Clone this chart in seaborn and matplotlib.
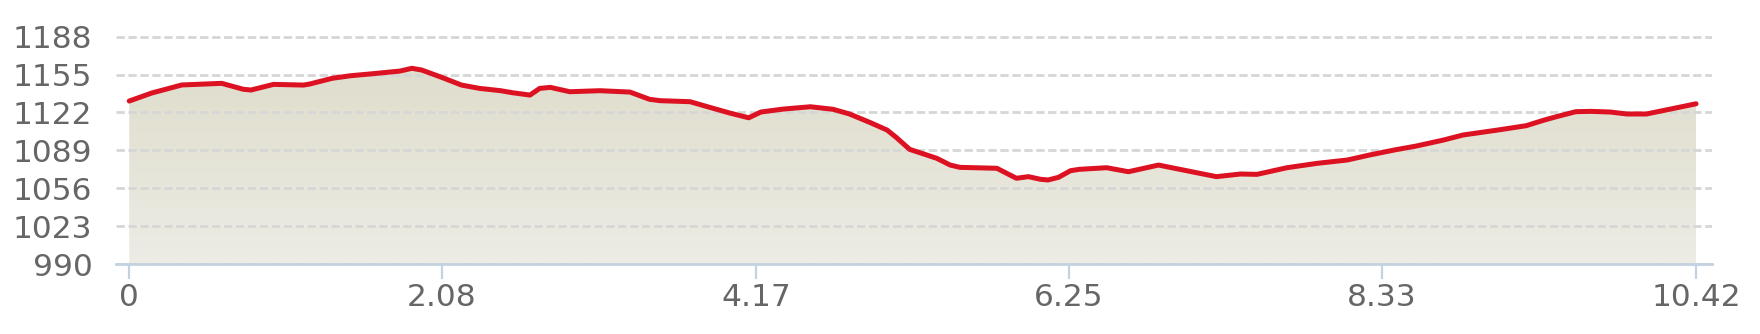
import numpy as np
import pandas as pd
import matplotlib
matplotlib.use("Agg")
import matplotlib.pyplot as plt
import seaborn as sns
from matplotlib.colors import LinearSegmentedColormap

# ---- data (distance in km, elevation in m) ----
distance = [0, 0.15, 0.35, 0.615, 0.76, 0.81, 0.96, 1.16, 1.20, 1.35, 1.47, 1.645,
            1.80, 1.88, 1.945, 2.07, 2.21, 2.33, 2.47, 2.55, 2.665, 2.73, 2.80,
            2.93, 3.13, 3.33, 3.46, 3.53, 3.73, 3.86, 4.00, 4.12, 4.20, 4.35,
            4.53, 4.68, 4.79, 4.93, 5.04, 5.10, 5.19, 5.37, 5.46, 5.525, 5.77,
            5.90, 5.98, 6.06, 6.11, 6.18, 6.26, 6.32, 6.50, 6.645, 6.845, 7.23,
            7.39, 7.50, 7.70, 7.90, 8.10, 8.25, 8.42, 8.56, 8.74, 8.87, 9.10,
            9.29, 9.41, 9.49, 9.62, 9.72, 9.85, 9.96, 10.09, 10.25, 10.42]
elevation = [1132.0, 1139.0, 1146.0, 1147.4, 1142.2, 1141.6, 1146.5, 1145.9, 1146.8,
             1151.8, 1154.0, 1156.1, 1158.1, 1160.5, 1159.0, 1153.0, 1145.9, 1143.0,
             1141.0, 1139.2, 1137.2, 1143.0, 1143.9, 1140.1, 1141.0, 1139.8, 1133.5,
             1132.3, 1131.4, 1126.5, 1121.3, 1117.4, 1122.4, 1125.0, 1127.0, 1124.8,
             1120.7, 1113.1, 1106.7, 1100.4, 1089.9, 1082.1, 1076.2, 1074.2, 1073.4,
             1064.7, 1066.1, 1063.8, 1063.2, 1065.5, 1071.3, 1072.5, 1073.9, 1070.4,
             1076.2, 1066.1, 1068.4, 1068.1, 1073.9, 1077.7, 1080.6, 1085.0, 1089.5,
             1092.8, 1098.0, 1102.4, 1106.7, 1110.5, 1115.4, 1118.3, 1122.7, 1123.0,
             1122.4, 1120.7, 1120.7, 1125.0, 1129.6]
x_ticks = [0, 2.08, 4.17, 6.25, 8.33, 10.42]
x_ticklabels = ["0", "2.08", "4.17", "6.25", "8.33", "10.42"]
y_ticks = [990, 1023, 1056, 1089, 1122, 1155, 1188]
y_ticklabels = ["990", "1023", "1056", "1089", "1122", "1155", "1188"]

df = pd.DataFrame({"distance": distance, "elevation": elevation})

sns.set_style("white")
plt.rcParams["font.family"] = ["DejaVu Sans"]

fig = plt.figure(figsize=(17.6, 3.34), dpi=100)
ax = fig.add_axes([116 / 1760, 1 - 264 / 334, (1712 - 116) / 1760, (264 - 35.6) / 334])

ymin, ymax = 990, 1189
xmin, xmax = -0.088, 10.526

# gradient fill under the profile
poly = ax.fill_between(df["distance"], df["elevation"], ymin, facecolor="none",
                       edgecolor="none")
cmap = LinearSegmentedColormap.from_list("g", ["#edece5", "#dfddcc"])
top = max(elevation)
grad = np.linspace(0, 1, 256).reshape(-1, 1)
im = ax.imshow(grad, extent=[distance[0], distance[-1], ymin, top], origin="lower",
               aspect="auto", cmap=cmap, zorder=0)
im.set_clip_path(poly.get_paths()[0], transform=ax.transData)

sns.lineplot(data=df, x="distance", y="elevation", color="#dc1121", linewidth=3.6,
             ax=ax, zorder=3, sort=False)

ax.set_xlim(xmin, xmax)
ax.set_ylim(ymin, ymax)
ax.set_xticks(x_ticks)
ax.set_xticklabels(x_ticklabels)
ax.set_yticks(y_ticks)
ax.set_yticklabels(y_ticklabels)
ax.set_xlabel("")
ax.set_ylabel("")

ax.set_axisbelow("line")
ax.yaxis.grid(True, color="#d6d6d6", linewidth=2.0, linestyle=(0, (3.0, 1.3)))
ax.xaxis.grid(False)

for s in ["top", "right", "left"]:
    ax.spines[s].set_visible(False)
ax.spines["bottom"].set_color("#c3d2e1")
ax.spines["bottom"].set_linewidth(2.0)

ax.tick_params(axis="y", length=0, pad=17, labelsize=22.5, labelcolor="#666666")
ax.tick_params(axis="x", length=11, width=1.6, color="#c3d2e1", pad=3,
               labelsize=22.5, labelcolor="#666666", bottom=True)

fig.savefig("out.png", dpi=100, facecolor="white")
